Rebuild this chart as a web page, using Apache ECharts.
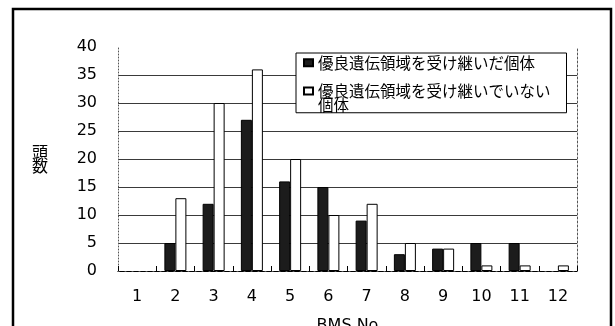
<!DOCTYPE html>
<html>
<head>
<meta charset="utf-8">
<script src="https://cdn.jsdelivr.net/npm/echarts@6/dist/echarts.min.js"></script>
<style>
  html, body { margin: 0; padding: 0; background: #fff; }
  #chart { width: 615px; height: 326px; }
</style>
</head>
<body>
<div id="chart"></div>
<script>
// BMS number of each group
const categories = ['1', '2', '3', '4', '5', '6', '7', '8', '9', '10', '11', '12'];
// head counts: animals that inherited the superior genetic region
const inherited = [0, 5, 12, 27, 16, 15, 9, 3, 4, 5, 5, 0];
// head counts: animals that did not inherit it
const notInherited = [0, 13, 30, 36, 20, 10, 12, 5, 4, 1, 1, 1];

const yTicks = { min: 0, max: 40, interval: 5 };

const nameInherited = '優良遺伝領域を受け継いだ個体';
const nameNotInherited = '優良遺伝領域を受け継いでいない個体';

const latin = '"DejaVu Sans", "Liberation Sans", sans-serif';
const cjk = '"Noto Sans CJK JP", sans-serif';

// empty groups get no bar at all (a zero-height bar would still show its outline)
const asBars = values => values.map(v => (v === 0 ? null : v));

const chart = echarts.init(document.getElementById('chart'), null, { renderer: 'canvas' });

// split lines at every tick except the top one, which is the dotted frame
const splitColors = [];
for (let v = yTicks.min; v <= yTicks.max; v += yTicks.interval) {
  splitColors.push(v === yTicks.max ? 'rgba(0,0,0,0)' : '#3a3a3a');
}

chart.setOption({
  animation: false,
  backgroundColor: '#fff',
  graphic: [{
    type: 'rect',
    silent: true,
    shape: { x: 13, y: 9, width: 598, height: 340 },
    style: { fill: 'none', stroke: '#000', lineWidth: 2.5 }
  }],
  grid: { left: 118, right: 38, top: 47, bottom: 55, outerBoundsMode: 'none', containLabel: false },
  legend: {
    orient: 'vertical',
    left: 296,
    top: 53,
    padding: [2, 16, 0, 7],
    itemGap: 6,
    itemWidth: 9,
    itemHeight: 7,
    icon: 'rect',
    backgroundColor: '#fff',
    borderColor: '#000',
    borderWidth: 1,
    borderRadius: 0,
    selectedMode: false,
    textStyle: {
      color: '#000',
      rich: {
        s: { fontSize: 1, lineHeight: 14 },
        t: { fontFamily: cjk, fontSize: 15.5, lineHeight: 14, color: '#000' }
      }
    },
    // the two-line entry keeps its icon beside the first line
    formatter: name => (name === nameNotInherited
      ? '{s| }\n{t|優良遺伝領域を受け継いでいない}\n{t|個体}'
      : '{t|' + name + '}'),
    data: [nameInherited, nameNotInherited]
  },
  xAxis: [{
    type: 'category',
    data: categories,
    name: 'BMS No',
    nameLocation: 'middle',
    nameGap: 47,
    nameTextStyle: { fontFamily: latin, fontSize: 16, color: '#000' },
    axisLine: { show: true, lineStyle: { color: '#000', width: 1 } },
    axisTick: { show: true, inside: true, length: 5, lineStyle: { color: '#000' } },
    axisLabel: { margin: 18, fontFamily: latin, fontSize: 16, color: '#000' },
    splitLine: { show: false }
  }, {
    type: 'category',
    data: categories,
    position: 'top',
    axisLine: { show: true, lineStyle: { color: '#555', width: 1, type: [1, 6] } },
    axisTick: { show: false },
    axisLabel: { show: false },
    splitLine: { show: false }
  }],
  yAxis: [{
    type: 'value',
    min: yTicks.min,
    max: yTicks.max,
    interval: yTicks.interval,
    name: '頭\n数',
    nameLocation: 'middle',
    nameRotate: 0,
    nameGap: 70,
    nameTextStyle: { fontFamily: cjk, fontSize: 16, lineHeight: 14, color: '#000', padding: [0, 0, 18, 0] },
    axisLine: { show: true, lineStyle: { color: '#555', width: 1, type: [1, 2] } },
    axisTick: { show: false },
    axisLabel: { margin: 21, fontFamily: latin, fontSize: 16, color: '#000' },
    splitLine: { show: true, lineStyle: { color: splitColors, width: 1 } }
  }, {
    type: 'value',
    min: yTicks.min,
    max: yTicks.max,
    interval: yTicks.interval,
    position: 'right',
    axisLine: { show: true, lineStyle: { color: '#555', width: 1, type: [2, 2] } },
    axisTick: { show: false },
    axisLabel: { show: false },
    splitLine: { show: false }
  }],
  series: [{
    name: nameInherited,
    type: 'bar',
    data: asBars(inherited),
    barWidth: 11,
    barGap: '0%',
    itemStyle: { color: '#1c1c1c', borderColor: '#000', borderWidth: 1 }
  }, {
    name: nameNotInherited,
    type: 'bar',
    data: asBars(notInherited),
    barWidth: 11,
    barGap: '0%',
    itemStyle: { color: '#fff', borderColor: '#000', borderWidth: 1 }
  }]
});
</script>
</body>
</html>
